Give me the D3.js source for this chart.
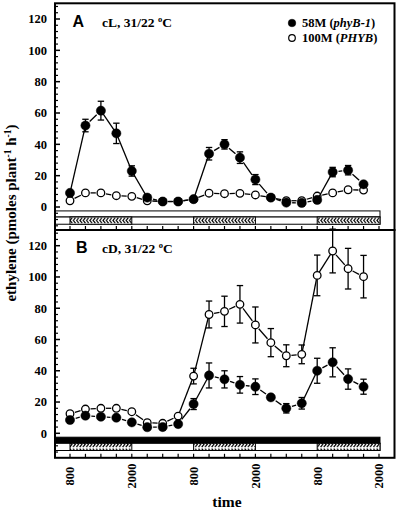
<!DOCTYPE html>
<html><head><meta charset="utf-8">
<script src="https://cdn.jsdelivr.net/npm/d3@7"></script>
<style>body{margin:0;background:#fff}svg{display:block}</style>
</head><body>
<script>
// ---- data ----
const hours = [0,3,6,9,12,15,18,21,24,27,30,33,36,39,42,45,48,51,54,57];
const cL_phyB1     = [9,52,61.5,47,23,6,3.5,3.5,5,34,40,31.5,17.5,6,2.8,2.6,4.5,22.3,23.5,14.5];
const cL_phyB1_err = [0,4,6,6.5,3.3,0,0,0,0,4,3,3.7,3.2,0,0,0,0,3,3,0];
const cL_PHYB      = [4,9,9,7.2,6.8,4,3.5,3.5,5,8.8,8.5,8.7,7.7,6,4,4,7,9,11,10.8];
const cL_PHYB_err  = [0,0,0,0,0,0,0,0,0,0,0,0,0,0,0,0,0,0,0,0];
const cD_phyB1     = [8.5,11.3,10.6,10,7,3.9,4,5.9,18.7,37,34.5,31,29.8,23,16,19.2,40,45.4,34.7,29.8];
const cD_phyB1_err = [0,0,0,0,0,0,0,0,3.5,8,5.5,5.3,5,0,3,3.7,8,9.3,6.5,4.8];
const cD_PHYB      = [12.5,15.5,16,16,13.8,6.8,6.4,11,36.6,76,78,82.5,69.3,58,49.6,50.5,101,116.6,105.3,100.2];
const cD_PHYB_err  = [0,0,0,0,0,0,0,0,5,8.6,9.7,12,11.5,9,7,6,13,14,13,13.6];
const xTickHours  = [0,3,6,9,12,15,18,21,24,27,30,33,36,39,42,45,48,51,54,57,60];
const xLabelHours = [0,12,24,36,48,60];
const xLabels     = ["800","2000","800","2000","800","2000"];
const dayIntervals = [[0,12],[24,36],[48,60]];
const yMajor = [0,20,40,60,80,100,120];
const yMinor = [-12,-8,-4,4,8,12,16,24,28,32,36,44,48,52,56,64,68,72,76,84,88,92,96,104,108,112,116,124,128];
const seriesNames = ["58M (", "phyB-1", ")", "100M (", "PHYB", ")"];

const W = 401, H = 514;
const SERIF = "'Liberation Serif','Times New Roman',serif";
const SANS = "'Liberation Sans',Arial,sans-serif";
const svg = d3.select("body").append("svg").attr("width", W).attr("height", H);

const defs = svg.append("defs");
function mkPattern(id, d) {
  const p = defs.append("pattern").attr("id", id).attr("patternUnits", "userSpaceOnUse")
    .attr("width", 3.3).attr("height", 7).attr("y", 0);
  p.append("rect").attr("width", 3.3).attr("height", 7).attr("fill", "#fff");
  p.append("path").attr("d", d).attr("fill", "none").attr("stroke", "#000").attr("stroke-width", 1.2);
}
mkPattern("hatchA", "M2.9,0.6 L0.8,3.4 L2.9,6.2");
mkPattern("hatchB", "M0.5,0.6 L2.6,3.4 L0.5,6.2");

const left = 55, right = 394.5;
const x = d3.scaleLinear().domain([0, 60]).range([70, 379]);

function panel(cfg) {
  const y = d3.scaleLinear().domain([0, 120]).range([cfg.y0, cfg.y120]);
  const g = svg.append("g");
  // light/dark bar
  const bTop = y(-2.5), bMid = y(-6.4), bBot = y(-11);
  g.append("rect").attr("x", left).attr("y", bTop).attr("width", x(60) - left + 1).attr("height", bMid - bTop)
    .attr("fill", cfg.dark ? "#000" : "#fff").attr("stroke", "#000").attr("stroke-width", 1);
  g.append("rect").attr("x", left).attr("y", bMid).attr("width", x(60) - left + 1).attr("height", bBot - bMid)
    .attr("fill", "#fff").attr("stroke", "#000").attr("stroke-width", 1);
  dayIntervals.forEach(([a, b]) => {
    g.append("rect").attr("x", x(a)).attr("y", bMid).attr("width", x(b) - x(a) + (b === 60 ? 1 : 0)).attr("height", bBot - bMid)
      .attr("fill", `url(#${cfg.hatch})`).attr("stroke", "#000").attr("stroke-width", 1);
  });
  // frame
  g.append("rect").attr("x", left).attr("y", cfg.top).attr("width", right - left).attr("height", cfg.bottom - cfg.top)
    .attr("fill", "none").attr("stroke", "#000").attr("stroke-width", 2);
  // y ticks
  yMajor.forEach(v => g.append("line").attr("x1", left).attr("x2", left + 5).attr("y1", y(v)).attr("y2", y(v)).attr("stroke", "#000").attr("stroke-width", 1.5));
  yMinor.forEach(v => g.append("line").attr("x1", left).attr("x2", left + 3).attr("y1", y(v)).attr("y2", y(v)).attr("stroke", "#000").attr("stroke-width", 1.2));
  yMajor.forEach(v => g.append("text").attr("x", 47).attr("y", y(v)).attr("dy", "0.35em").attr("text-anchor", "end")
    .attr("font-family", SERIF).attr("font-weight", "bold").attr("font-size", 12.5).text(v));
  // x ticks
  xTickHours.forEach(h => g.append("line").attr("x1", x(h)).attr("x2", x(h)).attr("y1", cfg.bottom).attr("y2", cfg.bottom - 4)
    .attr("stroke", "#000").attr("stroke-width", 1.2));
  // panel titles
  g.append("text").attr("x", cfg.letterX).attr("y", cfg.titleY).attr("font-family", SANS).attr("font-weight", "bold")
    .attr("font-size", 16).text(cfg.letter);
  const t = g.append("text").attr("x", 102).attr("y", cfg.titleY).attr("font-family", SERIF).attr("font-weight", "bold").attr("font-size", 13.5);
  t.append("tspan").text(cfg.title + " ");
  t.append("tspan").attr("font-size", 8.5).attr("dy", -5).text("o");
  t.append("tspan").attr("dy", 5).text("C");

  function drawSeries(vals, errs, filled) {
    const pts = hours.map((h, i) => [x(h), y(vals[i])]);
    const r = filled ? 4.6 : 3.8;
    for (let i = 0; i < pts.length - 1; i++) {
      const [x1, y1] = pts[i], [x2, y2] = pts[i + 1];
      const dx = x2 - x1, dy = y2 - y1, len = Math.hypot(dx, dy);
      const ux = dx / len, uy = dy / len;
      let s = 0, e = len;
      if (len < 27) { s = r + 1.3; e = len - r - 1.3; }
      g.append("line").attr("x1", x1 + ux * s).attr("y1", y1 + uy * s).attr("x2", x1 + ux * e).attr("y2", y1 + uy * e)
        .attr("stroke", "#000").attr("stroke-width", 1.3);
    }
    hours.forEach((h, i) => {
      if (!errs[i]) return;
      const cx = x(h), yt = y(vals[i] + errs[i]), yb = y(vals[i] - errs[i]);
      g.append("line").attr("x1", cx).attr("x2", cx).attr("y1", yt).attr("y2", yb).attr("stroke", "#000").attr("stroke-width", 1.3);
      [yt, yb].forEach(yy => g.append("line").attr("x1", cx - 3.2).attr("x2", cx + 3.2).attr("y1", yy).attr("y2", yy).attr("stroke", "#000").attr("stroke-width", 1.3));
    });
    pts.forEach(([cx, cy]) => g.append("circle").attr("cx", cx).attr("cy", cy).attr("r", r)
      .attr("fill", filled ? "#000" : "#fff").attr("stroke", "#000").attr("stroke-width", filled ? 0.5 : 1.3));
  }
  drawSeries(cfg.open, cfg.openErr, false);
  drawSeries(cfg.filled, cfg.filledErr, true);
  return y;
}

panel({ top: 3.3, bottom: 230, y0: 207, y120: 19, dark: false, hatch: "hatchA", letter: "A", letterX: 72.5, titleY: 26.5,
  title: "cL, 31/22", open: cL_PHYB, openErr: cL_PHYB_err, filled: cL_phyB1, filledErr: cL_phyB1_err });
panel({ top: 230, bottom: 457.8, y0: 433.3, y120: 245.7, dark: true, hatch: "hatchB", letter: "B", letterX: 76, titleY: 253,
  title: "cD, 31/22", open: cD_PHYB, openErr: cD_PHYB_err, filled: cD_phyB1, filledErr: cD_phyB1_err });

// x tick labels (rotated)
xLabelHours.forEach((h, i) => {
  svg.append("text").attr("transform", `translate(${x(h)},476) rotate(-90)`).attr("text-anchor", "middle").attr("dy", "0.35em")
    .attr("font-family", SERIF).attr("font-weight", "bold").attr("font-size", 12.5).text(xLabels[i]);
});
// axis titles
svg.append("text").attr("x", 227).attr("y", 507).attr("text-anchor", "middle").attr("font-family", SERIF)
  .attr("font-weight", "bold").attr("font-size", 15.5).text("time");
const yl = svg.append("text").attr("transform", "translate(16,213) rotate(-90)").attr("text-anchor", "middle")
  .attr("font-family", SERIF).attr("font-weight", "bold").attr("font-size", 15);
yl.append("tspan").text("ethylene (pmoles plant");
yl.append("tspan").attr("font-size", 9.5).attr("dy", -5).text("-1");
yl.append("tspan").attr("dy", 5).text(" h");
yl.append("tspan").attr("font-size", 9.5).attr("dy", -5).text("-1");
yl.append("tspan").attr("dy", 5).text(")");

// legend
const lg = svg.append("g");
[[0, true], [1, false]].forEach(([k, filled]) => {
  const ly = 23 + k * 15;
  lg.append("circle").attr("cx", 292).attr("cy", ly).attr("r", filled ? 3.8 : 3.3)
    .attr("fill", filled ? "#000" : "#fff").attr("stroke", "#000").attr("stroke-width", filled ? 0.5 : 1.2);
  const tx = lg.append("text").attr("x", 302).attr("y", ly).attr("dy", "0.35em").attr("font-family", SERIF)
    .attr("font-weight", "bold").attr("font-size", 12.5);
  tx.append("tspan").text(seriesNames[k * 3]);
  tx.append("tspan").attr("font-style", "italic").text(seriesNames[k * 3 + 1]);
  tx.append("tspan").text(seriesNames[k * 3 + 2]);
});
</script>
</body></html>
